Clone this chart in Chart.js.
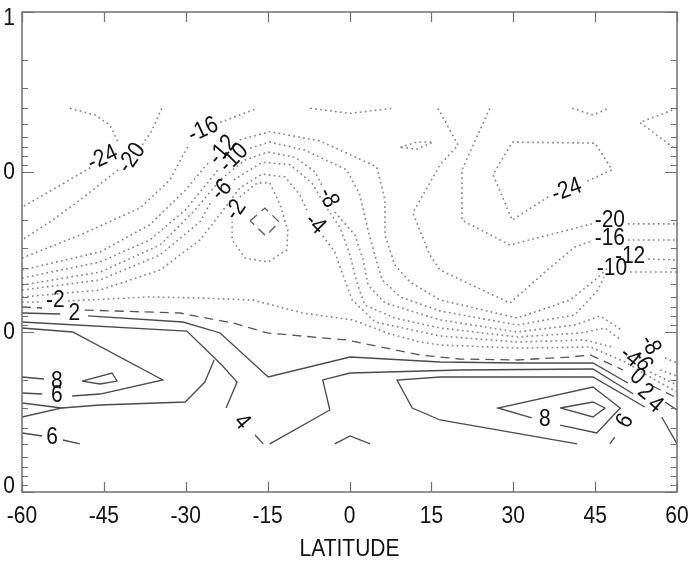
<!DOCTYPE html>
<html>
<head>
<meta charset="utf-8">
<script src="https://cdn.jsdelivr.net/npm/chart.js@4.4.0/dist/chart.umd.min.js"></script>
<style>
  html, body { margin: 0; padding: 0; background: #fff; }
  #wrap { position: relative; width: 694px; height: 572px; }
</style>
</head>
<body>
<div id="wrap"><canvas id="chart"></canvas></div>
<script>
// axis ticks
const latTicks = [-60, -45, -30, -15, 0, 15, 30, 45, 60];
const presTicks = [1, 10, 100, 1000];
const xTitle = "LATITUDE";

// contour lines as [latitude, pressure hPa], N = break for a label
const N = null;
const cM24a = [[-51.2,4],[-46.6,4.4],[-43.9,5.1],[-42.4,6.5],N,[-47.5,9.4],[-53,12.1],[-60,16.6]];
const cM24b = [[29.8,6.5],[45,6.6],[48.1,9.7],[43.1,11.6],N,[36.4,14.3],[29.8,20],[26.3,10.4],[29.8,6.5]];
const cM20a = [[-34.4,4],[-36.2,5.5],[-38,6.8],N,[-42.4,9.7],[-49.4,15],[-54.9,20.5],[-60,26.6]];
const cM20b = [[-7.2,4],[0.1,4.3],[7.8,4]];
const cM20c = [[25.7,4],[20.6,9.7],[20.6,20],[29.4,28.6],[38.6,23.7],[44.4,21.1],N,[51,21.1],[60,21.1]];
const cM16a = [[-60,34.5],[-49.4,24.8],[-38.4,16.8],[-32.9,11.2],[-29.6,6.9],N,[-23.7,4.9],[-16.9,4]];
const cM16b = [[16.2,4],[19.9,6.8],[16.6,9],[11.6,18],[14.7,33],[16.6,41],[29.4,65.9],[35.8,42.2],[41.3,29.4],[44.4,27],N,[51,26.6],[60,26.6]];
const cM16c = [[60,4],[53.2,4.9],[60,7.3]];
const cM16d = [[40.8,4],[44.6,4.4],[47.4,4]];
const cM16e = [[9.3,7],[12.4,6.5],[15.3,6.5],[12.4,7.2],[9.3,7]];
const cM12 = [[-60,41],[-45.7,31.6],[-36.6,21.4],[-30.1,13],[-25.9,8.8],N,[-20.1,6.3],[-14.6,5.6],[-5.4,6.4],[5,9.3],[6.5,15],[6.5,24.8],[8.3,38.1],[11.1,48.7],[16.6,63.1],[30.7,81.8],[40.4,63.1],[45,47.3],[47.7,38.7],N,[54.7,35],[60,35.5]];
const cM10 = [[-60,46],[-45.7,36.5],[-36.6,26.6],[-30.1,17.3],[-24.1,9.7],N,[-18.2,7.1],[-14.6,6.5],[-8.2,7.3],[-0.5,9.7],[1.9,13.9],[3.4,23.1],[4.9,35.5],[6,47.3],[9.3,60.4],[16.6,73.9],[30.7,90.4],[41.3,78.3],[45.5,54.7],[46.6,45.3],N,[51.4,42.2],[60,42.2]];
const cM8 = [[-60,50.9],[-45.7,42.2],[-34.7,28.6],[-28.3,17.3],[-23.7,11.2],[-19.1,8.4],[-14.9,7.5],[-10,8.1],[-6.3,10],[-5,12.2],N,[-2.7,17.8],[1,24.8],[2.5,35.5],[3.4,50.9],[6.5,65.9],[16.6,84.1],[30.7,100],[41.3,90.4],[45.9,79.4],[49.9,97.2],N,[57.8,145.4],[60,156]];
const cM6 = [[-60,54.7],[-45.7,47.3],[-34.7,33],[-27.4,20.5],[-25.2,15],N,[-21.2,11.2],[-16,8.7],[-10.9,9],[-6.9,11.7],[-4.5,16.1],[-1.7,22.4],[0.1,33],[1.2,47.3],[2.8,67.8],[8.3,81.8],[16.6,94.4],[30.7,107.5],[42.3,101.4],[46.8,94.4],[49.7,112.2],N,[56.9,172.8],[60,188.4]];
const cM4 = [[-60,60.4],[-45.7,54.7],[-34.7,41],[-27.4,26.6],[-23.4,17.8],[-20.1,12.6],[-16,10.3],[-11.8,10.75],[-9.1,13.9],[-7.8,17.3],N,[-4.9,25.1],[-2.7,31.6],[-1.2,44],[0.5,63.1],[4.7,86.6],[16.6,105.9],[30.7,115.5],[43.1,112.2],[48.1,124.1],N,[55.1,177.8],[60,214.4]];
const cM2a = [[-20.1,14.3],[-16.9,11.7],[-14.6,11.7],[-12.7,16.1],[-11.3,23.1],[-11.5,30.7],[-14.9,36.5],[-19.1,34.5],[-21.5,26.6],[-21.5,20.5]];
const cM2b = [[-60,64.9],[-56.3,64.9],N,[-51.6,64],[-36.6,60.4],[-27.4,61.3],[-17.7,63.1],[-8.5,76.1],[0.6,84.1],[6.9,101.4],[12.9,115.5],[16.6,120.6],[30.7,125.9],[44.1,124.1],[50.5,154],[56,199.5],[60,237.1]];
const c0a = [[-60,69.8],[-56.3,70.8],N,[-48.5,72.9],[-31.1,76.1],[-21.3,87.9],[-15.1,101.4],[-0.5,112.2],[12.9,139.2],[20.2,147.5],[30.7,149.6],[40.4,143.3],[44.1,139.2],[50.1,172.8],N,[55.5,217.6],[60,258.5]];
const c0b = [[-18.2,20.2],[-15.5,16.8],[-12.9,20.5],[-15.3,25.1],[-18.2,20.2]];
const cP2 = [[-60,76.1],[-53,77.2],N,[-47.9,79.4],[-30.5,86.6],[-23.7,101.4],[-14.9,191.1],[0.1,143.3],[16.6,154],[30.7,156.2],[44.6,156.2],[51,208.4],N,[57.8,273.8],[60,307.3]];
const cP4a = [[-60,86.6],[-29.8,98.6],[-23.4,160.8],[-20.6,205.4],[-22.6,298.5],N,[-17.3,440],[-15.8,500]];
const cP4b = [[-14.6,500],[-3.6,307.3],[-4.9,199.5],[0.1,180.4],[20.2,172.8],[44.6,170.3],[52,244.1],N,[57.2,339.8],[60,500]];
const cP4c = [[-52.7,298.5],[-45.7,285.9],[-30.1,273.8],[-26.5,205.4],[-24.8,149.6]];
const cP4d = [[-2.7,500],[0.1,446.7],[3.8,500]];
const cP6a = [[-60,94.4],[-50.7,100],[-34.2,199.5],[-45.7,244.1],[-50.8,251.2],N,[-56.3,244.1],[-60,240.6]];
const cP6b = [[41.7,500],[16.6,354.8],[11.5,298.5],[8.7,199.5],[16.6,191.1],[44.6,191.1],[54.1,294.2],N,[48.6,453.2],[47.7,500]];
const cP6c = [[-60,427.8],[-56.3,446.7],N,[-52.5,473.2],[-49.4,500]];
const cP6d = [[-60,339.8],[-52.7,298.5],[-60,277.8]];
const cP8a = [[-60,191.1],[-56,196.7]];
const cP8b = [[33.4,344.7],[27.2,298.5],[44.6,220.7],[49.6,298.5],[45.3,427.8],[38.6,381.4]];
const cP10a = [[-49,202.5],[-43.5,180.4],[-42.6,202.5],[-45.7,211.3],[-49,202.5]];
const cP10b = [[38.6,298.5],[44.6,273.8],[46.8,298.5],[44.6,339.8],[38.6,298.5]];

const contours = [
  { level: -24, pts: cM24a }, { level: -24, pts: cM24b },
  { level: -20, pts: cM20a }, { level: -20, pts: cM20b }, { level: -20, pts: cM20c },
  { level: -16, pts: cM16a }, { level: -16, pts: cM16b }, { level: -16, pts: cM16c },
  { level: -16, pts: cM16d }, { level: -16, pts: cM16e },
  { level: -12, pts: cM12 }, { level: -10, pts: cM10 }, { level: -8, pts: cM8 },
  { level: -6, pts: cM6 }, { level: -4, pts: cM4 },
  { level: -2, pts: cM2a }, { level: -2, pts: cM2b },
  { level: 0, pts: c0a }, { level: 0, pts: c0b },
  { level: 2, pts: cP2 },
  { level: 4, pts: cP4a }, { level: 4, pts: cP4b }, { level: 4, pts: cP4c }, { level: 4, pts: cP4d },
  { level: 6, pts: cP6a }, { level: 6, pts: cP6b }, { level: 6, pts: cP6c }, { level: 6, pts: cP6d },
  { level: 8, pts: cP8a }, { level: 8, pts: cP8b },
  { level: 10, pts: cP10a }, { level: 10, pts: cP10b },
];

// contour labels: text, latitude, pressure
const labelText = ["-24","-20","-16","-12","-10","-6","-2","-8","-4","-24","-20","-16","-12","-10",
  "-2","2","8","6","6","4","8","6","-8","-6","-4","0","2","4"];
const labelLat = [-45.2,-39.9,-26.8,-23.2,-21.2,-23.4,-20.8,-3.9,-6.3,39.8,47.7,47.7,51.4,48.1,
  -53.9,-50.4,-53.6,-53.6,-54.5,-19.7,35.8,50.5,55.1,53.6,51.4,52.7,54.2,56];
const labelPres = [8.18,8.18,5.46,7.29,8.18,13,17.3,14.5,21.1,13,20,25.9,33.5,39.8,
  63.1,76.1,202.5,247.6,453.2,365.2,349.8,360,120.6,151.8,143.3,191.1,237.1,285.9];
const labelTilt = [-25,-55,-25,-50,-45,-45,-55,65,45,-20,0,0,0,0,
  0,0,0,0,0,50,0,-60,60,60,40,40,40,40];

const FONT = '21px "Liberation Sans", Arial, sans-serif';

function styleFor(level) {
  if (level < 0) return { borderColor: "#858585", borderWidth: 1.6, borderDash: [1.7, 3.3] };
  if (level === 0) return { borderColor: "#555", borderWidth: 1.3, borderDash: [9, 6] };
  return { borderColor: "#4a4a4a", borderWidth: 1.3, borderDash: [] };
}

function drawText(ctx, txt, x, y, angle, align) {
  ctx.save();
  ctx.translate(x, y);
  ctx.rotate((angle || 0) * Math.PI / 180);
  ctx.scale(1, 1.15);
  ctx.textAlign = align || "center";
  ctx.textBaseline = "middle";
  ctx.fillText(txt, 0, 0);
  ctx.restore();
}

const framePlugin = {
  id: "frame",
  afterDatasetsDraw(chart) {
    const { ctx, chartArea: a, scales } = chart;
    const xs = scales.x, ys = scales.y;
    ctx.save();
    ctx.strokeStyle = "#707070";
    ctx.lineWidth = 1.5;
    ctx.strokeRect(a.left, a.top, a.right - a.left, a.bottom - a.top);

    ctx.lineWidth = 1.2;
    ctx.beginPath();
    latTicks.forEach((v) => {
      const px = Math.round(xs.getPixelForValue(v)) + 0.5;
      ctx.moveTo(px, a.bottom); ctx.lineTo(px, a.bottom - 10);
      ctx.moveTo(px, a.top); ctx.lineTo(px, a.top + 10);
    });
    for (let d = 1; d < 1000; d *= 10) {
      for (let k = 1; k <= 10; k++) {
        const len = (k === 1 || k === 10) ? 12 : 6;
        const py = Math.round(ys.getPixelForValue(d * k)) + 0.5;
        ctx.moveTo(a.left, py); ctx.lineTo(a.left + len, py);
        ctx.moveTo(a.right, py); ctx.lineTo(a.right - len, py);
      }
    }
    ctx.stroke();

    ctx.fillStyle = "#111";
    ctx.font = FONT;
    latTicks.forEach((v) => {
      drawText(ctx, String(v), xs.getPixelForValue(v), 516, 0);
    });
    // the page is cropped at the left, only the last digit shows
    ctx.save();
    ctx.beginPath();
    ctx.rect(4, 0, a.left, a.bottom + 10);
    ctx.clip();
    presTicks.forEach((v) => {
      let py = ys.getPixelForValue(v);
      py = Math.min(Math.max(py, a.top + 6), a.bottom - 6);
      drawText(ctx, String(v), 15, py, 0, "right");
    });
    ctx.restore();
    drawText(ctx, xTitle, (a.left + a.right) / 2, 549, 0);

    labelText.forEach((t, i) => {
      drawText(ctx, t, xs.getPixelForValue(labelLat[i]), ys.getPixelForValue(labelPres[i]), labelTilt[i]);
    });
    ctx.restore();
  },
};

const datasets = contours.map((c) => Object.assign({
  data: c.pts.map((q) => (q ? { x: q[0], y: q[1] } : { x: null, y: null })),
  showLine: true,
  pointRadius: 0,
  pointHoverRadius: 0,
  spanGaps: false,
  tension: 0,
  fill: false,
}, styleFor(c.level)));

new Chart(document.getElementById("chart").getContext("2d"), {
  type: "scatter",
  data: { datasets },
  options: {
    responsive: true,
    maintainAspectRatio: false,
    animation: false,
    devicePixelRatio: 1,
    layout: { padding: { left: 22, right: 17, top: 12, bottom: 80 } },
    plugins: { legend: { display: false }, tooltip: { enabled: false } },
    events: [],
    scales: {
      x: { type: "linear", min: -60, max: 60, display: false },
      y: { type: "logarithmic", min: 1, max: 1000, reverse: true, display: false },
    },
  },
  plugins: [framePlugin],
});
</script>
</body>
</html>
